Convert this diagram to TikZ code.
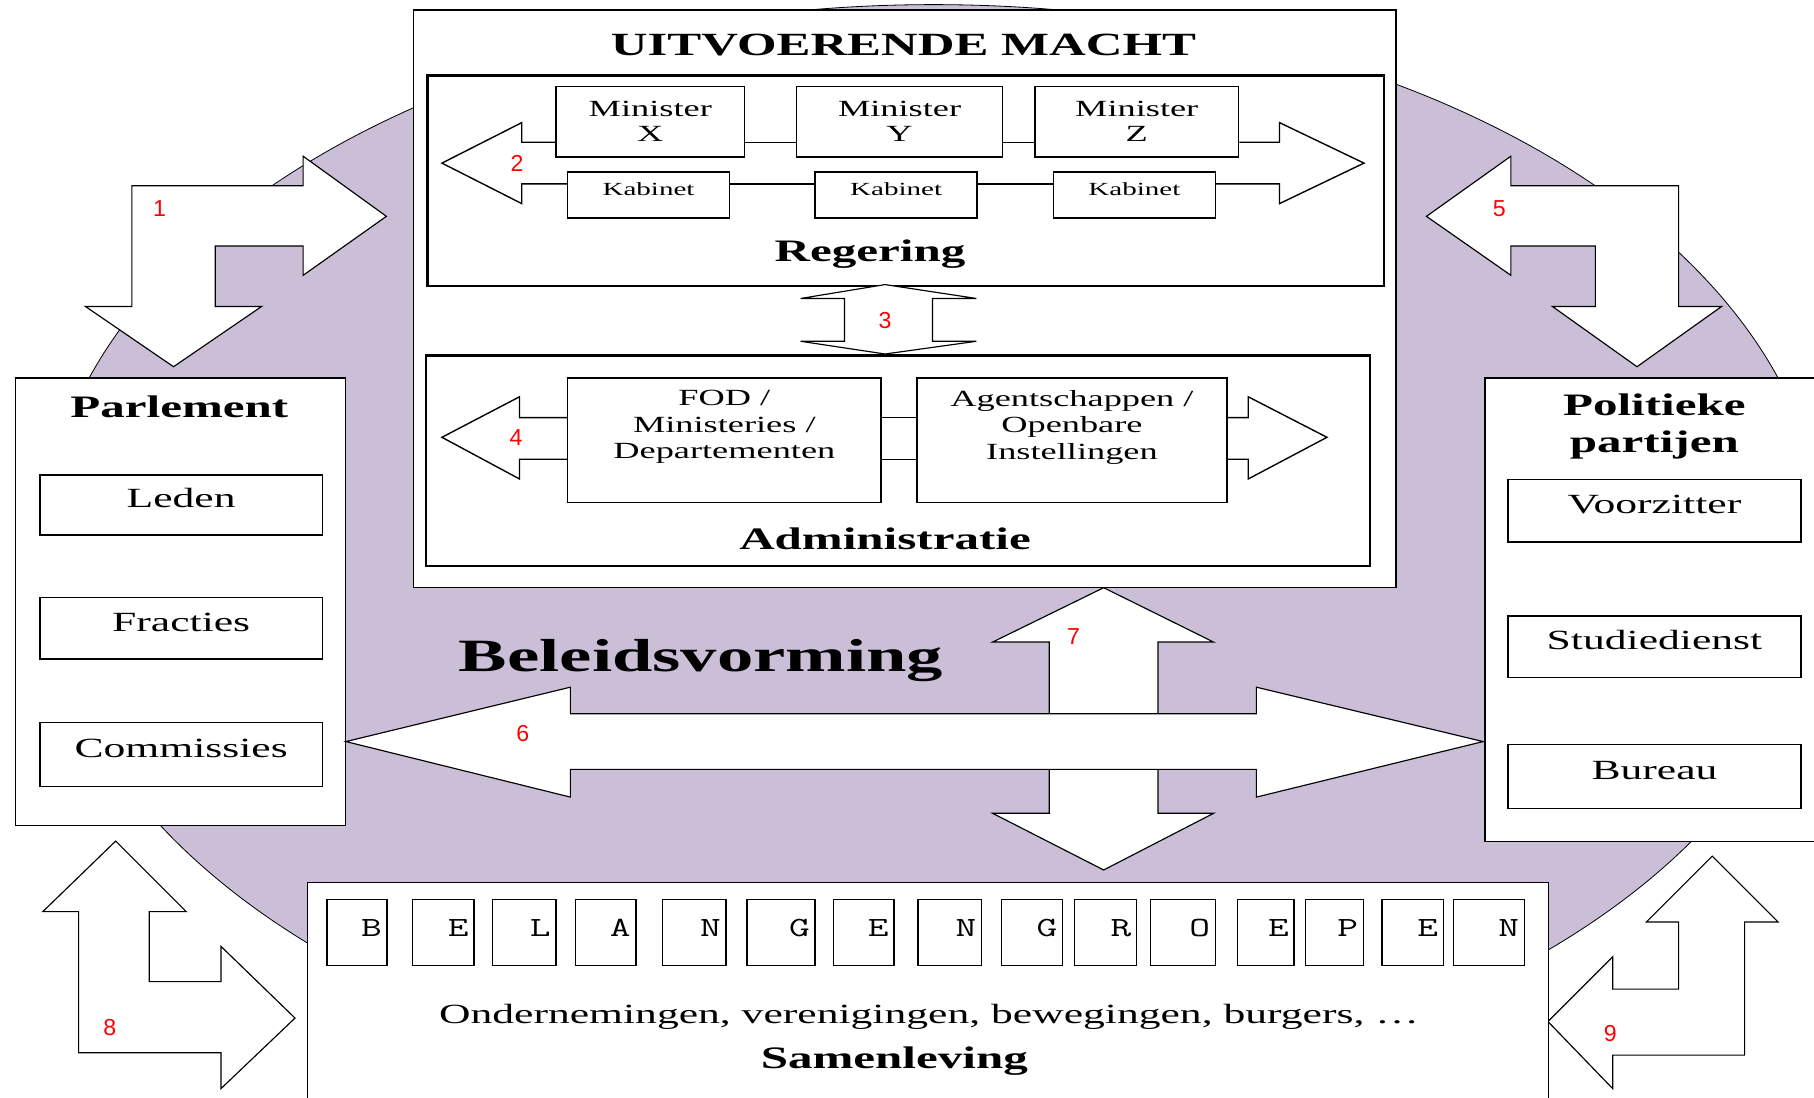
\documentclass[tikz,border=0pt]{standalone}
\usepackage{fontspec}
\setmainfont[FakeStretch=1.57]{Liberation Serif}
\newfontfamily\monofont[FakeStretch=1.45]{Latin Modern Mono}
\newfontfamily\numfont{Liberation Sans}
\usepackage{xcolor}
\usepackage{tikz}
\usetikzlibrary{positioning}
\definecolor{lavendel}{RGB}{203,191,215}
\tikzset{
    box/.style={
        draw,
        fill=white,
        line width=1.2pt,
        inner sep=0pt,
        anchor=north west,
        align=center
    },
    dikbox/.style={
        draw,
        line width=2.4pt,
        inner sep=0pt,
        anchor=north west
    },
    kader/.style={
        box,
        text height=17pt,
        text depth=12pt,
        font=\fontsize{24}{26}\selectfont
    },
    minister/.style={
        box,
        minimum height=61pt,
        font=\fontsize{20}{22}\selectfont
    },
    kabinet/.style={
        box,
        minimum width=140pt,
        minimum height=40pt,
        text height=12pt,
        text depth=11pt,
        font=\fontsize{16}{18}\selectfont
    },
    letterbox/.style={box, minimum height=57pt},
    letter/.style={font=\monofont\fontsize{24}{24}\selectfont, inner sep=0pt},
    kop/.style={font=\bfseries\fontsize{27}{32}\selectfont, align=center},
    tekst/.style={font=\fontsize{20}{23}\selectfont, align=center, inner sep=0pt},
    pijl/.style={draw, fill=white, line width=1pt},
    lijn/.style={line width=1.2pt},
    nummer/.style={text=red, font=\numfont\fontsize{20}{20}\selectfont}
}
\begin{document}
\begin{tikzpicture}[x=1pt,y=-1pt]
    \useasboundingbox (0,0) rectangle (1568,949);
    \fill[white] (0,0) rectangle (1568,949);
    % achtergrond
    \draw[fill=lavendel, line width=0.7pt] (807,478) ellipse [x radius=770, y radius=474];

    % gebogen pijlen 1, 5, 8, 9
    \draw[pijl] (114,160.5) -- (262,160.5) -- (262,135) -- (334,187) -- (262,238) -- (262,212.6)
        -- (186,212.6) -- (186,265) -- (226,265) -- (150,317) -- (74,265) -- (114,265) -- cycle;
    \draw[pijl] (1233,187) -- (1306,135) -- (1306,160.5) -- (1451,160.5) -- (1451,265) -- (1488,265)
        -- (1415,317) -- (1342,265) -- (1379,265) -- (1379,212.6) -- (1306,212.6) -- (1306,238) -- cycle;
    \draw[pijl] (100,727) -- (161,788) -- (129,788) -- (129,848.5) -- (191,848.5) -- (191,818)
        -- (255,880) -- (191,941) -- (191,910) -- (68,910) -- (68,788) -- (37,788) -- cycle;
    \draw[pijl] (1480,740) -- (1537,797) -- (1508,797) -- (1508,912) -- (1394,912) -- (1394,941)
        -- (1338,883) -- (1394,827) -- (1394,855) -- (1451,855) -- (1451,797) -- (1423,797) -- cycle;

    % parlement
    \node[box, minimum width=285pt, minimum height=387pt] (parl) at (13,326) {};
    \node[kop] (parltitel) at (155,352) {Parlement};
    \node[kader, minimum width=244pt, minimum height=52pt] (leden) at (34,410) {Leden};
    \node[kader, minimum width=244pt, minimum height=53pt] (fracties) at (34,516) {Fracties};
    \node[kader, minimum width=244pt, minimum height=55pt] (comm) at (34,624) {Commissies};

    % politieke partijen
    \node[box, minimum width=300pt, minimum height=401pt] (pol) at (1283,326) {};
    \node[kop] (poltitel) at (1430,369) {Politieke\\partijen};
    \node[kader, minimum width=253pt, minimum height=54pt] (voorz) at (1303,414) {Voorzitter};
    \node[kader, minimum width=253pt, minimum height=53pt] (studie) at (1303,532) {Studiedienst};
    \node[kader, minimum width=253pt, minimum height=55pt] (bureau) at (1303,643) {Bureau};

    % uitvoerende macht
    \node[box, minimum width=849pt, minimum height=499pt] (um) at (357,8) {};
    \node[kop, font=\bfseries\fontsize{28}{30}\selectfont] (umtitel) at (781,39) {UITVOERENDE MACHT};
    \node[dikbox, minimum width=827pt, minimum height=182pt] (reg) at (368,64) {};
    \node[kop] (regtitel) at (752,220) {Regering};
    \node[dikbox, minimum width=816pt, minimum height=182pt] (adm) at (367,306) {};
    \node[kop] (admtitel) at (765,466) {Administratie};

    \node[minister, minimum width=163pt] (mx) at (480,74) {Minister\\X};
    \node[minister, minimum width=178pt] (my) at (688,74) {Minister\\Y};
    \node[minister, minimum width=176pt] (mz) at (894,74) {Minister\\Z};
    \node[kabinet] (kx) at (490,148) {Kabinet};
    \node[kabinet] (ky) at (704,148) {Kabinet};
    \node[kabinet] (kz) at (910,148) {Kabinet};

    \coordinate (r1) at (0,123);
    \coordinate (r2) at (0,159);
    \coordinate (a1) at (0,361);
    \coordinate (a2) at (0,397);
    \foreach \s/\t in {mx/my,my/mz}
        \draw[lijn] (\s.east |- r1) -- (\t.west |- r1);
    \foreach \s/\t in {kx/ky,ky/kz}
        \draw[lijn] (\s.east |- r2) -- (\t.west |- r2);
    \draw[lijn] (mx.west |- r1) -- (451,123) -- (451,106) -- (382,141) -- (451,176) -- (451,159) -- (kx.west |- r2);
    \draw[lijn] (mz.east |- r1) -- (1106,123) -- (1106,106) -- (1179,141) -- (1106,176) -- (1106,159) -- (kz.east |- r2);

    \draw[pijl] (765,246) -- (844,258) -- (806,258) -- (806,295) -- (844,295) -- (765,306)
        -- (692,295) -- (730,295) -- (730,258) -- (692,258) -- cycle;

    \node[box, minimum width=271pt, minimum height=108pt] (fod) at (490,326) {};
    \node[tekst, below=11pt of fod.north] (fodtekst) {FOD /\\Ministeries /\\Departementen};
    \node[box, minimum width=268pt, minimum height=108pt] (agent) at (792,326) {};
    \node[tekst, below=11pt of agent.north] (agenttekst) {Agentschappen /\\Openbare\\Instellingen};
    \foreach \r in {a1,a2}
        \draw[lijn] (fod.east |- \r) -- (agent.west |- \r);
    \draw[lijn] (fod.west |- a1) -- (449,361) -- (449,343) -- (382,378) -- (449,414) -- (449,397) -- (fod.west |- a2);
    \draw[lijn] (agent.east |- a1) -- (1079,361) -- (1079,343) -- (1147,378) -- (1079,414) -- (1079,397) -- (agent.east |- a2);

    % beleidsvorming
    \node[font=\bfseries\fontsize{40}{44}\selectfont] (bv) at (606,571) {Beleidsvorming};
    \draw[pijl] (954,508) -- (1049,555) -- (1001,555) -- (1001,703) -- (1049,703) -- (954,752)
        -- (858,703) -- (907,703) -- (907,555) -- (858,555) -- cycle;
    \draw[pijl] (299,641) -- (493,594) -- (493,617) -- (1086,617) -- (1086,594) -- (1282,641)
        -- (1086,689) -- (1086,665) -- (493,665) -- (493,689) -- cycle;

    % samenleving
    \node[box, minimum width=1073pt, minimum height=200pt] (sam) at (265,762) {};
    \foreach \xa/\xb/\ch [count=\i] in {282/334/B, 356/409/E, 425/480/L, 497/549/A, 572/627/N,
        645/704/G, 720/772/E, 793/848/N, 865/918/G, 928/982/R, 994/1050/O, 1069/1118/E,
        1128/1178/P, 1194/1247/E, 1256/1317/N}
    {
        \node[letterbox, minimum width={(\xb-\xa)*1pt}] (g\i) at (\xa,777) {};
        \node[letter, left=5pt of g\i.east, yshift=4pt] (t\i) {\ch};
    }
    \node[font=\fontsize{24}{26}\selectfont] (ond) at (803,879) {Ondernemingen, verenigingen, bewegingen, burgers, …};
    \node[kop] (samtitel) at (773,917) {Samenleving};

    % nummers
    \foreach \n/\x/\y in {1/138/180, 2/447/141, 3/765/277, 4/446/378, 5/1296/180,
        6/452/634, 7/928/550, 8/95/888, 9/1392/893}
        \node[nummer] (n\n) at (\x,\y) {\n};
\end{tikzpicture}
\end{document}
